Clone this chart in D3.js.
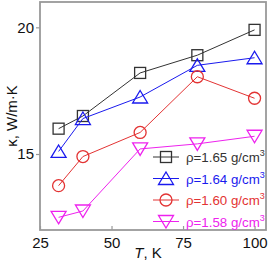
<!DOCTYPE html>
<html>
<head>
<meta charset="utf-8">
<script src="https://cdn.jsdelivr.net/npm/d3@7"></script>
<style>
  body { margin: 0; background: #fff; }
  svg text { font-family: "Liberation Sans", Arial, sans-serif; }
</style>
</head>
<body>
<div id="chart"></div>
<script>
// data
const temps = [31.5, 40, 60, 80, 100];
const kappa165 = [16.0, 16.5, 18.2, 18.9, 19.9];
const kappa164 = [15.1, 16.4, 17.25, 18.5, 18.8];
const kappa160 = [13.75, 14.9, 15.85, 18.05, 17.2];
const kappa158 = [12.5, 12.75, 15.2, 15.4, 15.7];
const seriesNames = ['1.65', '1.64', '1.60', '1.58'];
const xTicks = [25, 50, 75, 100];
const yTicks = [15, 20];

const width = 270, height = 264;
const margin = {left: 40, top: 2, right: 4, bottom: 34};

const svg = d3.select('#chart').append('svg')
  .attr('width', width)
  .attr('height', height);

const x = d3.scaleLinear().domain([25, 104]).range([margin.left, width - margin.right]);
const y = d3.scaleLinear().domain([12, 21]).range([height - margin.bottom, margin.top]);

// marker shapes
function marker(g, kind, color) {
  if (kind === 'square') {
    g.append('rect').attr('x', -5.5).attr('y', -5.5).attr('width', 11).attr('height', 11);
  } else if (kind === 'circle') {
    g.append('circle').attr('r', 6);
  } else if (kind === 'up') {
    g.append('path').attr('d', 'M0,-6.5L7.5,6L-7.5,6Z');
  } else {
    g.append('path').attr('d', 'M0,6.5L7.5,-6L-7.5,-6Z');
  }
  g.selectAll('*').attr('fill', 'none').attr('stroke', color).attr('stroke-width', 1.3);
}

const series = [
  {name: seriesNames[0], values: kappa165, color: '#333333', kind: 'square'},
  {name: seriesNames[1], values: kappa164, color: '#1a1aee', kind: 'up'},
  {name: seriesNames[2], values: kappa160, color: '#e33333', kind: 'circle'},
  {name: seriesNames[3], values: kappa158, color: '#ee22ee', kind: 'down'}
];

// axes
const yAxis = svg.append('g')
  .attr('transform', 'translate(' + margin.left + ',0)')
  .call(d3.axisLeft(y).tickValues(yTicks).tickSize(4).tickPadding(2));
const xAxis = svg.append('g')
  .attr('transform', 'translate(0,' + (height - margin.bottom) + ')')
  .call(d3.axisBottom(x).tickValues(xTicks).tickSize(-4).tickPadding(7));
[xAxis, yAxis].forEach(a => {
  a.select('.domain').remove();
  a.selectAll('.tick line').attr('stroke', '#999').attr('stroke-width', 1.2);
  a.selectAll('.tick text').attr('fill', '#111').style('font-size', '15px')
    .style('font-family', '"Liberation Sans", Arial, sans-serif');
});

// frame
svg.append('rect')
  .attr('x', margin.left).attr('y', margin.top)
  .attr('width', width - margin.left - margin.right)
  .attr('height', height - margin.top - margin.bottom)
  .attr('fill', 'none').attr('stroke', '#999').attr('stroke-width', 1.8);

// lines + markers
const line = d3.line().x((d, i) => x(temps[i])).y(d => y(d));
series.forEach(s => {
  svg.append('path')
    .attr('d', line(s.values))
    .attr('fill', 'none').attr('stroke', s.color).attr('stroke-width', 1);
  s.values.forEach((v, i) => {
    const g = svg.append('g').attr('transform', 'translate(' + x(temps[i]) + ',' + y(v) + ')');
    marker(g, s.kind, s.color);
  });
});

// legend
const legend = svg.append('g');
series.forEach((s, i) => {
  const ly = 157 + i * 21.5;
  legend.append('line')
    .attr('x1', 153).attr('x2', 179).attr('y1', ly).attr('y2', ly)
    .attr('stroke', s.color).attr('stroke-width', 1);
  const g = legend.append('g').attr('transform', 'translate(166,' + ly + ')');
  marker(g, s.kind, s.color);
  const t = legend.append('text')
    .attr('x', 186).attr('y', ly + 5)
    .attr('fill', s.color).style('font-size', '13.3px');
  t.append('tspan').text('\u03c1=' + s.name + ' g/cm');
  t.append('tspan').text('3').attr('dy', -6).style('font-size', '9px');
});

// axis titles
svg.append('text')
  .attr('transform', 'translate(17,116) rotate(-90)')
  .attr('text-anchor', 'middle')
  .style('font-size', '15px').attr('fill', '#111')
  .text('\u03ba, W/m\u00b7K');

const xt = svg.append('text')
  .attr('x', 148).attr('y', 258)
  .attr('text-anchor', 'middle')
  .style('font-size', '15px').attr('fill', '#111');
xt.append('tspan').text('T').style('font-style', 'italic');
xt.append('tspan').text(', K');
</script>
</body>
</html>
